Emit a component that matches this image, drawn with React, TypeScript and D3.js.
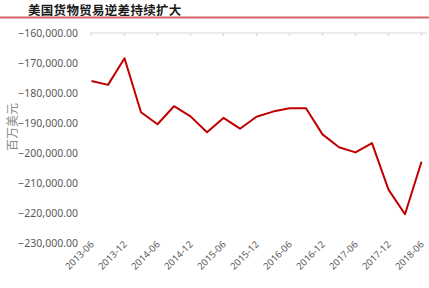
import React from "react";
import * as d3 from "d3";

const categories = [
  "2013-06","2013-09","2013-12","2014-03","2014-06","2014-09","2014-12","2015-03",
  "2015-06","2015-09","2015-12","2016-03","2016-06","2016-09","2016-12","2017-03",
  "2017-06","2017-09","2017-12","2018-03","2018-06",
];
const values = [
  -176000, -177300, -168400, -186400, -190400, -184400, -187800, -193100,
  -188300, -191900, -187900, -186200, -185100, -185100, -193800, -198100,
  -199800, -196700, -212200, -220400, -202900,
];
const yTicks = [-160000, -170000, -180000, -190000, -200000, -210000, -220000, -230000];
const title = "美国货物贸易逆差持续扩大";
const yTitle = "百万美元";

export default function App() {
  const W = 429, H = 288;
  const x = d3.scalePoint<string>().domain(categories).range([91.5, 421.5]);
  const y = d3.scaleLinear().domain([-230000, -160000]).range([243, 33]);
  const fmt = d3.format(",.2f");
  const line = d3
    .line<number>()
    .x((_, i) => x(categories[i]) as number)
    .y((d) => y(d));
  const labelCats = categories.filter((_, i) => i % 2 === 0);
  const sansFont = "'Noto Sans', 'Liberation Sans', sans-serif";
  return (
    <svg
      width={W}
      height={H}
      style={{ position: "absolute", left: 0, top: 0, background: "#fff" }}
    >
      <text
        x={28}
        y={14.5}
        fontFamily="'Noto Sans CJK SC', sans-serif"
        fontWeight="bold"
        fontSize={12.5}
        letterSpacing={0.3}
        fill="#1a1a1a"
      >
        {title}
      </text>
      <line x1={0} x2={W} y1={17.5} y2={17.5} stroke="#d9626a" strokeWidth={2} />
      {/* top category axis */}
      <line x1={90} x2={427} y1={y(-160000)} y2={y(-160000)} stroke="#d9d9d9" strokeWidth={1} />
      {labelCats.map((c) => (
        <line
          key={"t" + c}
          x1={x(c)}
          x2={x(c)}
          y1={y(-160000)}
          y2={y(-160000) + 3}
          stroke="#d9d9d9"
          strokeWidth={1}
        />
      ))}
      {yTicks.map((t) => (
        <text
          key={t}
          x={78}
          y={y(t)}
          dy="0.35em"
          textAnchor="end"
          fontFamily={sansFont}
          fontSize={10.5}
          fill="#595959"
        >
          {fmt(t)}
        </text>
      ))}
      <text
        transform={`translate(17,${127}) rotate(-90)`}
        textAnchor="middle"
        fontFamily="'Noto Sans CJK SC', sans-serif"
        fontSize={12}
        fill="#8c8c8c"
      >
        {yTitle}
      </text>
      {labelCats.map((c) => (
        <text
          key={"l" + c}
          transform={`translate(${(x(c) as number) + 3},${245}) rotate(-45)`}
          textAnchor="end"
          fontFamily={sansFont}
          fontSize={9.5}
          fill="#595959"
        >
          {c}
        </text>
      ))}
      <path d={line(values) || ""} fill="none" stroke="#c00000" strokeWidth={2} strokeLinejoin="round" />
    </svg>
  );
}
